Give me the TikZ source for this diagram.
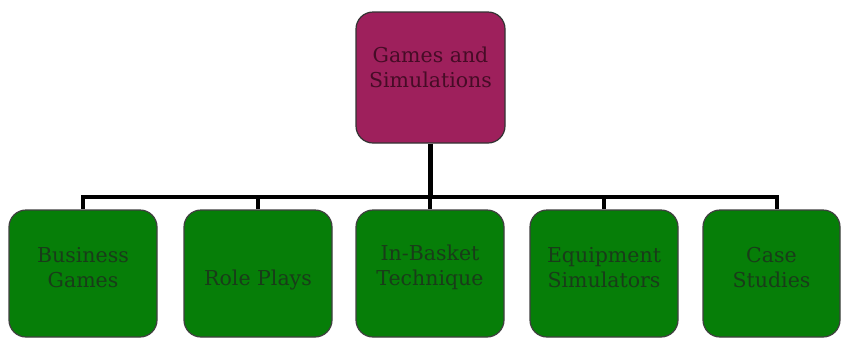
\documentclass[tikz,border=0pt]{standalone}
\usepackage{fontspec}
\setmainfont{DejaVu Serif}
\begin{document}
\begin{tikzpicture}[x=1pt,y=-1pt,
  topbox/.style={draw=black!80, line width=1.2pt, fill=plum, rounded corners=17pt,
    minimum width=149pt, minimum height=131pt},
  leafbox/.style={draw=black!75, line width=1.2pt, fill=leaf, rounded corners=17pt,
    minimum width=148pt, minimum height=127pt},
  caption/.style={align=center, inner sep=0pt, font=\fontsize{20.5}{25}\selectfont},
  link/.style={line width=4.4pt, draw=black}]
\definecolor{plum}{RGB}{158,32,92}
\definecolor{plumtext}{RGB}{70,12,38}
\definecolor{leaf}{RGB}{6,126,8}
\definecolor{leaftext}{RGB}{25,60,25}
\useasboundingbox (0,0) rectangle (843,338);
\fill[white] (0,0) rectangle (843,338);

% boxes
\node[topbox] (root) at (430.5,77.5) {};
\node[leafbox] (b1) at (83,273.5) {};
\node[leafbox] (b2) at (258,273.5) {};
\node[leafbox] (b3) at (430,273.5) {};
\node[leafbox] (b4) at (604,273.5) {};
\node[leafbox, minimum width=137pt] (b5) at (771.5,273.5) {};

% captions
\node[caption, text=plumtext] (rootText) at ([yshift=10pt]root.center) {Games and\\Simulations};
\node[caption, text=leaftext] (t1) at ([yshift=6pt]b1.center) {Business\\Games};
\node[caption, text=leaftext] (t2) at ([yshift=-6pt]b2.center) {Role Plays};
\node[caption, text=leaftext] (t3) at ([yshift=6pt]b3.center) {In-Basket\\Technique};
\node[caption, text=leaftext] (t4) at ([yshift=6pt]b4.center) {Equipment\\Simulators};
\node[caption, text=leaftext] (t5) at ([yshift=6pt]b5.center) {Case\\Studies};

% connectors
\coordinate (bus) at (430.5,197);
\coordinate (busL) at (83,197);
\coordinate (busR) at (777,197);
\draw[link] (root.south) -- (bus);
\draw[link, line cap=rect] (busL) -- (busR);
\draw[link] (busL) -- (b1.north);
\draw[link] (b2.north |- bus) -- (b2.north);
\draw[link] (b3.north |- bus) -- (b3.north);
\draw[link] (b4.north |- bus) -- (b4.north);
\draw[link] (busR) -- (busR |- b5.north);
\end{tikzpicture}
\end{document}
